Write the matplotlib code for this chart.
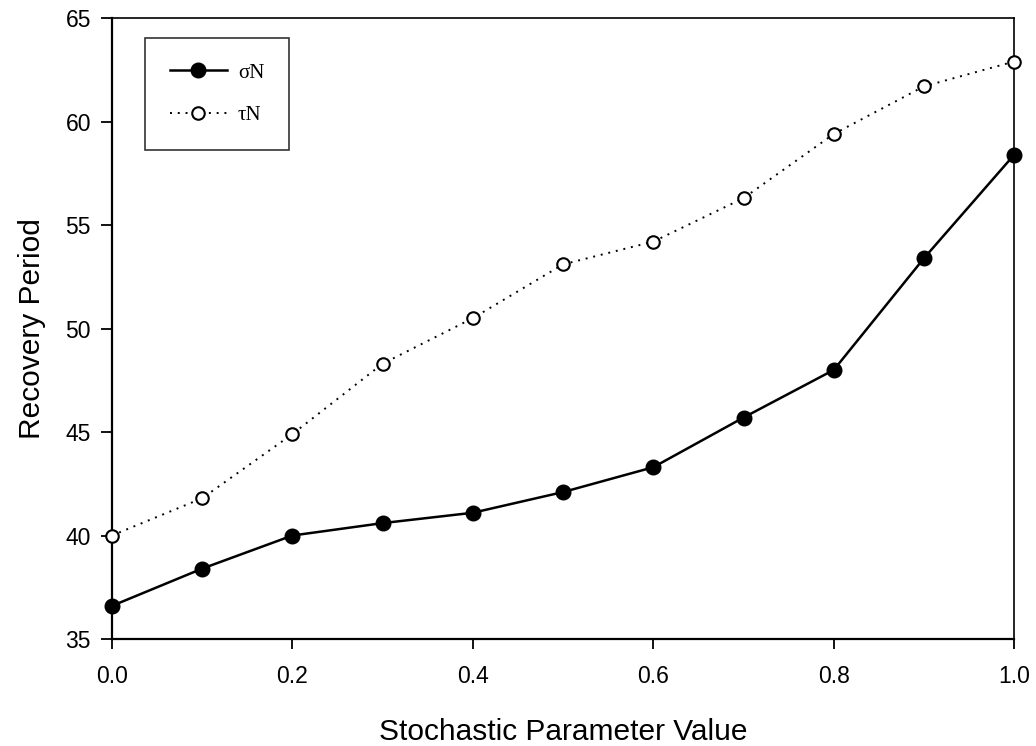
import matplotlib
matplotlib.use("Agg")
import matplotlib.pyplot as plt
from matplotlib.ticker import MultipleLocator

# stochastic parameter values and the two recovery-period series
param = [0.0, 0.1, 0.2, 0.3, 0.4, 0.5, 0.6, 0.7, 0.8, 0.9, 1.0]
sigma_n = [36.6, 38.4, 40.0, 40.6, 41.1, 42.1, 43.3, 45.7, 48.0, 53.4, 58.4]
tau_n = [40.0, 41.8, 44.9, 48.3, 50.5, 53.1, 54.2, 56.3, 59.4, 61.7, 62.9]
labels = ["σN", "τN"]

plt.rcParams["font.family"] = ["Liberation Sans", "DejaVu Sans"]

fig = plt.figure(figsize=(10.36, 7.46), dpi=100)
ax = fig.add_axes([0.108, 0.1434, 0.871, 0.8324])

ax.plot(param, sigma_n, color="black", lw=1.8, marker="o", ms=10.5,
        mfc="black", mec="black", label=labels[0], clip_on=False, zorder=3)
ax.plot(param, tau_n, color="black", lw=1.4, ls=(0, (1, 3)), marker="o",
        ms=9, mfc="white", mec="black", mew=1.5, label=labels[1],
        clip_on=False, zorder=3)

ax.set_xlim(0, 1.0)
ax.set_ylim(35, 65)
ax.xaxis.set_major_locator(MultipleLocator(0.2))
ax.yaxis.set_major_locator(MultipleLocator(5))
ax.xaxis.set_major_formatter(plt.FormatStrFormatter("%.1f"))

ax.tick_params(axis="both", direction="out", labelsize=16.5, width=1.3,
               color="black", top=False, right=False)
ax.tick_params(axis="y", length=8, pad=7)
ax.tick_params(axis="x", length=7, pad=12)

for side in ("left", "bottom"):
    ax.spines[side].set_linewidth(1.6)
for side in ("top", "right"):
    ax.spines[side].set_linewidth(1.2)

ax.set_xlabel("Stochastic Parameter Value", fontsize=21.5, labelpad=21)
ax.set_ylabel("Recovery Period", fontsize=21.5, labelpad=14)

leg = ax.legend(loc="upper left", bbox_to_anchor=(0.037, 0.968),
                frameon=True, fancybox=False, edgecolor="black",
                prop={"family": ["Liberation Serif", "DejaVu Serif"], "size": 15},
                handlelength=2.7, handletextpad=0.55,
                labelspacing=1.1, borderpad=1.2, borderaxespad=0)
leg.get_frame().set_linewidth(1.2)

fig.savefig("out.png", dpi=100, facecolor="white")
